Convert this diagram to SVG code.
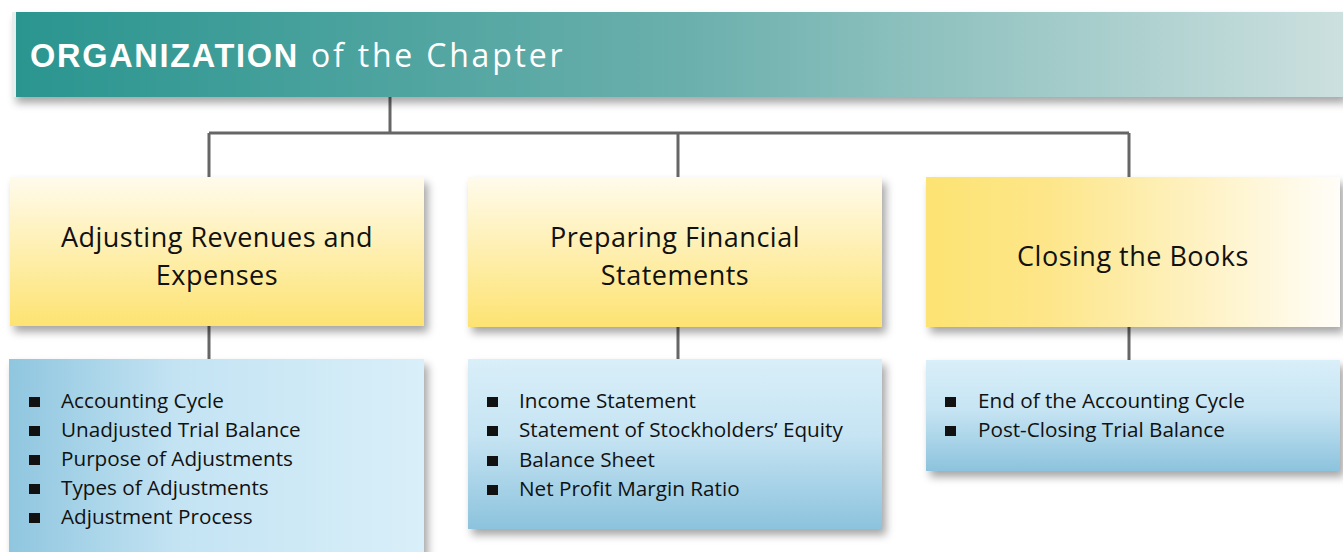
<svg xmlns="http://www.w3.org/2000/svg" width="1343" height="552" viewBox="0 0 1343 552">
<defs>
<linearGradient id="hdr" x1="0" y1="0" x2="1" y2="0">
<stop offset="0" stop-color="#2a958f"/>
<stop offset="0.5" stop-color="#6aafac"/>
<stop offset="1" stop-color="#cce0df"/>
</linearGradient>
<linearGradient id="yv" x1="0" y1="0" x2="0" y2="1">
<stop offset="0" stop-color="#fffbec"/>
<stop offset="1" stop-color="#fde372"/>
</linearGradient>
<linearGradient id="yh" x1="0" y1="0" x2="1" y2="0">
<stop offset="0" stop-color="#fde372"/>
<stop offset="0.3" stop-color="#fde68a"/>
<stop offset="1" stop-color="#fffdf8"/>
</linearGradient>
<linearGradient id="bv" x1="0" y1="0" x2="0" y2="1">
<stop offset="0" stop-color="#d9eff9"/>
<stop offset="0.45" stop-color="#c6e4f3"/>
<stop offset="1" stop-color="#8cc3dd"/>
</linearGradient>
<linearGradient id="bh" x1="0" y1="0" x2="1" y2="0">
<stop offset="0" stop-color="#8fc6df"/>
<stop offset="0.4" stop-color="#c3e3f3"/>
<stop offset="1" stop-color="#d9eff9"/>
</linearGradient>
<filter id="sh" x="-5%" y="-10%" width="115%" height="130%">
<feDropShadow dx="4" dy="6" stdDeviation="4" flood-color="#000" flood-opacity="0.35"/>
</filter>
</defs>
<style>
.t{font-family:"Open Sans","Noto Sans",sans-serif;fill:#111;}
.h{font-size:27px;letter-spacing:0.5px;}
.l{font-size:20.7px;}
.c{stroke:#666;stroke-width:3;fill:none;}
.b{fill:#111;}
</style>
<g id="connectors">
<path class="c" d="M390 97V133M209 133H1129M209 133V177M678 133V177M1129 133V177M209 326V359M678 327V359M1129 327V360"/>
</g>
<g id="header">
<rect x="12" y="12" width="1331" height="85" fill="#e6efee" filter="url(#sh)"/>
<rect x="16" y="12" width="1327" height="85" fill="url(#hdr)"/>
<text x="30" y="67" font-family="Liberation Sans, Arial, sans-serif" fill="#fff"><tspan font-size="32.5" font-weight="bold" letter-spacing="1.7">ORGANIZATION</tspan><tspan font-family="Open Sans, sans-serif" font-size="32" letter-spacing="2.8" dx="12">of the Chapter</tspan></text>
</g>
<g id="n1">
<rect x="10" y="177" width="414" height="149" fill="url(#yv)" filter="url(#sh)"/>
<text class="t h" text-anchor="middle" x="217" y="247">Adjusting Revenues and</text>
<text class="t h" text-anchor="middle" x="217" y="285">Expenses</text>
</g>
<g id="n2">
<rect x="468" y="177" width="414" height="150" fill="url(#yv)" filter="url(#sh)"/>
<text class="t h" text-anchor="middle" x="675" y="247">Preparing Financial</text>
<text class="t h" text-anchor="middle" x="675" y="285">Statements</text>
</g>
<g id="n3">
<rect x="926" y="177" width="414" height="150" fill="url(#yh)" filter="url(#sh)"/>
<text class="t h" text-anchor="middle" x="1133" y="266">Closing the Books</text>
</g>
<g id="n4">
<rect x="9" y="359" width="415" height="200" fill="url(#bh)" filter="url(#sh)"/>
<rect class="b" x="29" y="397" width="11" height="10"/>
<rect class="b" x="29" y="426" width="11" height="10"/>
<rect class="b" x="29" y="455" width="11" height="10"/>
<rect class="b" x="29" y="484" width="11" height="10"/>
<rect class="b" x="29" y="513" width="11" height="10"/>
<text class="t l" x="61" y="408">Accounting Cycle</text>
<text class="t l" x="61" y="437">Unadjusted Trial Balance</text>
<text class="t l" x="61" y="466">Purpose of Adjustments</text>
<text class="t l" x="61" y="495">Types of Adjustments</text>
<text class="t l" x="61" y="524">Adjustment Process</text>
</g>
<g id="n5">
<rect x="468" y="359" width="414" height="170" fill="url(#bv)" filter="url(#sh)"/>
<rect class="b" x="487" y="397" width="11" height="10"/>
<rect class="b" x="487" y="426" width="11" height="10"/>
<rect class="b" x="487" y="456" width="11" height="10"/>
<rect class="b" x="487" y="485" width="11" height="10"/>
<text class="t l" x="519" y="408">Income Statement</text>
<text class="t l" x="519" y="437">Statement of Stockholders’ Equity</text>
<text class="t l" x="519" y="467">Balance Sheet</text>
<text class="t l" x="519" y="496">Net Profit Margin Ratio</text>
</g>
<g id="n6">
<rect x="926" y="360" width="414" height="111" fill="url(#bv)" filter="url(#sh)"/>
<rect class="b" x="945" y="397" width="11" height="10"/>
<rect class="b" x="945" y="426" width="11" height="10"/>
<text class="t l" x="978" y="408">End of the Accounting Cycle</text>
<text class="t l" x="978" y="437">Post-Closing Trial Balance</text>
</g>
</svg>
